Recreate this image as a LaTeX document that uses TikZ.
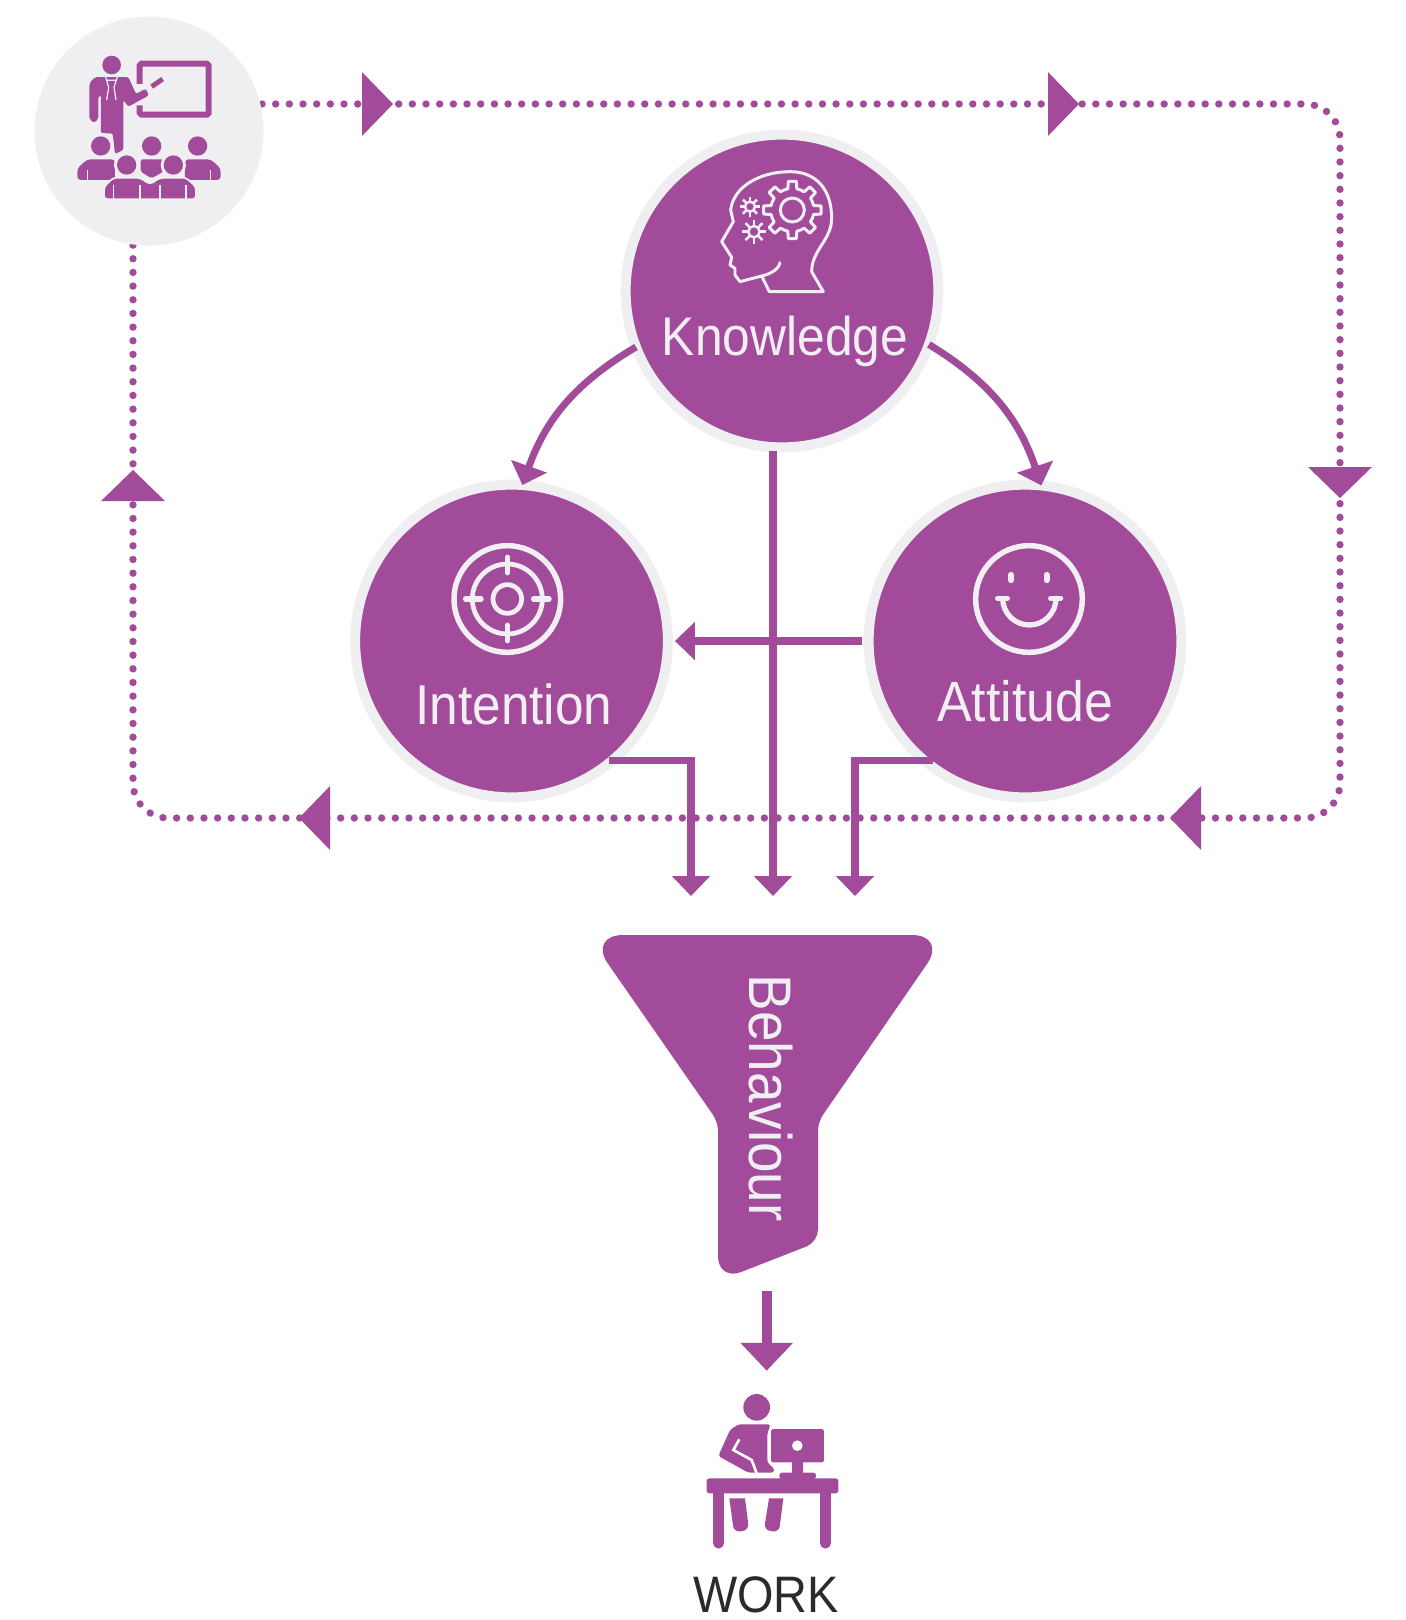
\documentclass[tikz,border=0pt]{standalone}
\usepackage{fontspec}
\usetikzlibrary{arrows.meta}
\newfontfamily\labelfont[FakeStretch=0.913]{Liberation Sans}
\definecolor{plum}{HTML}{A34B9B}
\definecolor{halo}{HTML}{EFEFF2}
\definecolor{pale}{HTML}{F1EEF4}
\definecolor{inkdark}{HTML}{2B2B2B}

\tikzset{
	circbox/.style={circle, fill=plum, draw=halo, line width=5.67pt, minimum size=178pt, inner sep=0pt, outer sep=0pt},
	lbl/.style={text=pale, anchor=base, inner sep=0pt, font=\labelfont\fontsize{31}{31}\selectfont},
	flow/.style={draw=plum, line width=4pt, -{Triangle[length=11.3pt, width=21pt]}},
	dotflow/.style={draw=plum, line width=4.2pt, line cap=round, dash pattern=on 0.01pt off 7.77pt, rounded corners=20pt},
	iconat/.style={shift={(#1)}, x=0.006667cm, y=-0.006667cm},
	iconline/.style={draw=pale, line width=1.7pt, line cap=round, line join=round},
}

% one mark on the dotted loop: tip position, direction
\newcommand{\loopmark}[2]{\fill[plum, shift={(#1)}, rotate=#2] (0,0) -- (-31,32) -- (-31,-32) -- cycle;}
% one gear: centre, root radius, tip radius
\newcommand{\gearline}[3]{
	\foreach \a in {0,45,...,315}
	\draw[iconline, shift={(#1)}] (\a-12:#2) -- (\a-8:#3) -- (\a+8:#3) -- (\a+12:#2)
	arc[start angle=\a+12, end angle=\a+33, radius=#2];
}
% one small gear: centre, ring radius, tip radius
\newcommand{\smallgear}[3]{
	\draw[iconline, line width=1.4pt] (#1) circle (#2);
	\foreach \a in {0,45,...,315}
	\draw[iconline, line width=1.4pt, line cap=butt, shift={(#1)}] (\a:#2) -- (\a:#3);
}

\begin{document}
\begin{tikzpicture}[x=0.02cm, y=-0.02cm]
	\useasboundingbox (0,0) rectangle (1406,1620);
	
	% ------------------------------------------------------------
	% Dotted loop
	% ------------------------------------------------------------
	
	\coordinate (looptop) at (262,104);
	\coordinate (loopne) at (1340,104);
	\coordinate (loopse) at (1340,818);
	\coordinate (loopsw) at (133,818);
	\coordinate (loopend) at (133,245);
	
	\draw[dotflow] (looptop) -- (loopne) -- (loopse) -- (loopsw) -- (loopend);
	
	\loopmark{393,104}{0}
	\loopmark{1079,104}{0}
	\loopmark{1340,498}{-90}
	\loopmark{1170,818}{180}
	\loopmark{299,818}{180}
	\loopmark{133,470}{90}
	
	% ------------------------------------------------------------
	% Circles
	% ------------------------------------------------------------
	
	\node[circle, fill=halo, minimum size=130.4pt, inner sep=0pt, outer sep=0pt] (teacher) at (149,131) {};
	\node[circbox] (knowledge) at (782,291) {};
	\node[circbox] (intention) at (511.5,641) {};
	\node[circbox] (attitude) at (1025,641) {};
	
	\node[lbl] (knowledgelbl) at (785,355) {Knowledge};
	\node[lbl, font=\labelfont\fontsize{32}{32}\selectfont] (intentionlbl) at (514,724) {Intention};
	\node[lbl, font=\labelfont\fontsize{32.3}{32.3}\selectfont] (attitudelbl) at (1025,721) {Attitude};
	
	% ------------------------------------------------------------
	% Funnel
	% ------------------------------------------------------------
	
	\fill[plum] (767,935) [rounded corners=20pt] -- (947,935) [rounded corners=5pt] -- (818,1122)
	[rounded corners=7pt] -- (818,1242) [rounded corners=14pt] -- (718,1281)
	[rounded corners=5pt] -- (718,1122) [rounded corners=20pt] -- (588,935) [sharp corners] -- cycle;
	
	\node[lbl, anchor=center, rotate=-90, font=\labelfont\fontsize{34.2}{34.2}\selectfont] (behaviourlbl) at (771,1098) {Behaviour};
	
	% ------------------------------------------------------------
	% Connectors
	% ------------------------------------------------------------
	
	\coordinate (footl) at (691,896);
	\coordinate (kdrop) at (773,451);
	\coordinate (footm) at (773,896);
	\coordinate (footr) at (855,896);
	\coordinate (outtop) at (766.7,1291);
	\coordinate (outend) at (766.7,1370.7);
	
	\draw[flow] (knowledge.201) to[bend right=20] (intention.86);
	\draw[flow] (knowledge.340) to[bend left=20] (attitude.84);
	\draw[flow] (kdrop) -- (footm);
	\draw[flow, shorten <=4pt, shorten >=4pt] (attitude.west) -- (intention.east);
	\draw[flow, shorten <=-1.5pt] (intention.310) -| (footl);
	\draw[flow, shorten <=-5pt] (attitude.230) -| (footr);
	\draw[draw=plum, line width=5.7pt, -{Triangle[length=15.9pt, width=29pt]}] (outtop) -- (outend);
	
	% ------------------------------------------------------------
	% Teacher icon
	% ------------------------------------------------------------
	
	\begin{scope}[iconat={0,0}]
		\draw[plum, line width=3.4pt, rounded corners=1pt] (419,252) -- (419,191) -- (626,191) -- (626,344) -- (419,344) -- (419,316);
		\draw[plum, line width=2.8pt] (455,260) -- (488,237);
		\fill[plum] (335,195) circle (28);
		\fill[plum, rounded corners=1.2pt] (268,250) -- (285,231) -- (385,231) -- (408,282) -- (437,266) -- (447,286) -- (385,320) -- (370,300) -- (370,450) -- (345,462) -- (338,400) -- (303,400) -- (303,285) -- (295,290) -- (295,358) -- (282,368) -- (268,358) -- cycle;
		\draw[halo, line width=0.7pt] (317,231) -- (326,262) -- (320,300) (352,231) -- (342,262) -- (348,300) (322,241) -- (346,241);
		\fill[halo] (302,438) circle (40);
		\foreach \hx in {302,455,593}
		\fill[plum] (\hx,438) circle (29);
		\fill[plum, rounded corners=2pt] (232,540) -- (232,505) -- (262,478) -- (345,478) -- (345,540) -- cycle;
		\fill[plum, rounded corners=1pt] (422,478) -- (490,478) -- (490,515) -- (455,535) -- (422,515) -- cycle;
		\fill[plum, rounded corners=2pt] (555,478) -- (632,478) -- (662,505) -- (662,540) -- (555,540) -- cycle;
		\fill[halo] (380,495) circle (38) (520,495) circle (38);
		\foreach \hx in {380,520}
		\fill[plum] (\hx,495) circle (29);
		\draw[halo, line width=1.2pt] (310,600) -- (310,540) (590,600) -- (590,540);
		\filldraw[plum, draw=halo, line width=1pt, rounded corners=2pt] (312,598) -- (312,560) -- (340,533) -- (420,533) -- (450,553) -- (480,533) -- (558,533) -- (588,560) -- (588,598) -- cycle;
		\draw[halo, line width=0.8pt] (340,556) -- (340,598) (420,556) -- (420,598) (480,556) -- (480,598) (558,556) -- (558,598) (262,510) -- (262,540) (632,510) -- (632,540);
	\end{scope}
	
	% ------------------------------------------------------------
	% Head with gears
	% ------------------------------------------------------------
	
	\begin{scope}[iconat={680,150}]
		\draw[iconline] (430,425) -- (268,425) -- (245,378) -- (180,395) -- (165,375) -- (165,355) -- (150,345) -- (155,322) -- (125,275) -- (160,215) -- (152,180)
		.. controls (160,110) and (240,65) .. (330,65)
		.. controls (410,65) and (455,120) .. (455,205)
		.. controls (455,270) and (395,300) .. (395,365) -- (430,425);
		\draw[iconline] (245,378) .. controls (270,372) and (295,360) .. (300,338);
		\gearline{337,180}{65}{87}
		\draw[iconline] (337,180) circle (36);
		\smallgear{210,170}{15}{30}
		\smallgear{222,245}{17}{36}
	\end{scope}
	
	% ------------------------------------------------------------
	% Target
	% ------------------------------------------------------------
	
	\begin{scope}[iconat={430,520}]
		\draw[iconline, line width=3.1pt] (232,237) circle (160);
		\draw[iconline, line width=2.7pt] (232,237) circle (105);
		\draw[iconline, line width=2.7pt] (232,237) circle (43);
		\draw[iconline, line width=3.1pt] (232,112) -- (232,158) (232,316) -- (232,362) (107,237) -- (153,237) (311,237) -- (357,237);
	\end{scope}
	
	% ------------------------------------------------------------
	% Smiley
	% ------------------------------------------------------------
	
	\begin{scope}[iconat={950,520}]
		\draw[iconline, line width=3.1pt] (237,237) circle (160);
		\draw[iconline, line width=3.6pt] (183,165) -- (183,180) (290,165) -- (290,180);
		\draw[iconline, line width=3pt] (143,235) -- (172,235) (302,235) -- (332,235);
		\draw[iconline, line width=3pt] (158,235) arc[start angle=180, end angle=0, radius=80];
	\end{scope}
	
	% ------------------------------------------------------------
	% Person at desk
	% ------------------------------------------------------------
	
	\begin{scope}[iconat={650,1280}]
		\fill[plum] (320,382) circle (40);
		\fill[plum, rounded corners=1.5pt] (265,433) -- (362,433) -- (352,460) -- (352,548) -- (372,565) -- (372,578) -- (295,578) -- (205,528) -- (240,450) -- cycle;
		\draw[white, line width=1.5pt] (268,478) -- (250,510) -- (305,540) -- (320,580);
		\fill[plum, rounded corners=1pt] (363,447) rectangle (522,547);
		\fill[white] (442,497) circle (16);
		\fill[plum] (425,547) rectangle (460,585);
		\fill[plum, rounded corners=1.5pt] (388,597) -- (388,578) -- (498,578) -- (498,597) -- cycle;
		\fill[plum, rounded corners=1.5pt] (170,595) rectangle (565,640);
		\draw[plum, line width=6pt, line cap=round] (206,640) -- (206,790) (526,640) -- (526,790);
		\fill[plum] (238,655) -- (285,655) [rounded corners=3.5pt] -- (297,750) -- (252,757) [sharp corners] -- cycle;
		\fill[plum] (357,655) -- (400,655) [rounded corners=3.5pt] -- (387,757) -- (342,750) [sharp corners] -- cycle;
	\end{scope}
	
	\node[text=inkdark, anchor=base, inner sep=0pt, font=\labelfont\fontsize{29.2}{29.2}\selectfont] (worklbl) at (766,1612) {WORK};
\end{tikzpicture}
\end{document}
